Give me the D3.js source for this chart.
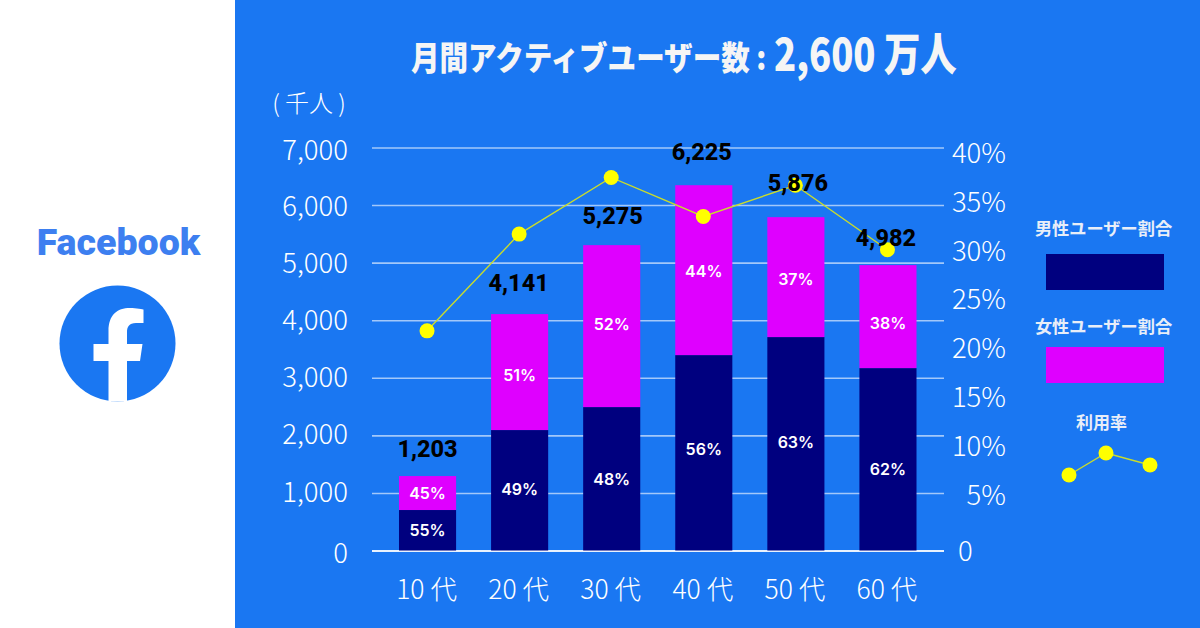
<!DOCTYPE html>
<html><head><meta charset="utf-8">
<script src="https://d3js.org/d3.v7.min.js"></script>
<style>html,body{margin:0;padding:0;background:#fff}svg{display:block}text{font-family:"Noto Sans CJK JP",sans-serif}</style>
</head><body><svg id="c" width="1200" height="628"></svg>
<script>
const categories=["10 代","20 代","30 代","40 代","50 代","60 代"];
const maleHeight=[703,2092,2491,3394,3707,3168];
const femaleHeight=[590,2014,2813,2951,2083,1789];
const totalLabels=["1,203","4,141","5,275","6,225","5,876","4,982"];
const malePct=["55%","49%","48%","56%","63%","62%"];
const femalePct=["45%","51%","52%","44%","37%","38%"];
const usageRate=[21.8,31.7,37.5,33.5,36.7,30.1];
const leftTicks=[0,1000,2000,3000,4000,5000,6000,7000];
const rightTicks=[0,5,10,15,20,25,30,35,40];
const leftLabelDy=[1,-2,-3,-2,-2,-1,-1,1];
const totalDy=[-19,-23,-21,-25,-26,-19];
const totalDx=[0,-1,1,-2,2,-2];
const maleDy=[0,-1,0,-4,-2,10];
const femaleDy=[0,3,-2,1,2,7];

const BLUE="#1a77f2",NAVY="#00007f",MAG="#df00ff",YEL="#ffff00",LINE="#c9dc2c";
const svg=d3.select("#c");
svg.append("rect").attr("x",235).attr("y",0).attr("width",965).attr("height",628).attr("fill",BLUE);

const x=d3.scaleBand().domain(categories).range([381.5,934]).paddingInner(.38).paddingOuter(.19);
const y=d3.scaleLinear().domain([0,7000]).range([550.5,147.5]);
const yR=d3.scaleLinear().domain([0,5,40]).range([551,495,153]);

// grid + left axis
const gL=svg.append("g").attr("transform","translate(372,0)")
 .call(d3.axisLeft(y).tickValues(leftTicks).tickFormat(d3.format(",")).tickSize(-572).tickPadding(24));
gL.select(".domain").remove();
gL.selectAll(".tick line").attr("stroke","#fff").attr("stroke-opacity",d=>d===0?.9:.6).attr("stroke-width",d=>d===0?2:1.6);
gL.selectAll("text").attr("fill","#fff").attr("font-size",27.5).attr("font-weight",300).attr("dy","0.4em").attr("y",d=>leftLabelDy[leftTicks.indexOf(d)]);
// right axis
const gR=svg.append("g").attr("transform","translate(1006,0)")
 .call(d3.axisLeft(yR).tickValues(rightTicks).tickFormat(d=>d===0?"0":d+"%").tickSize(0).tickPadding(0));
gR.select(".domain").remove();
gR.selectAll("text").attr("fill","#fff").attr("font-size",27.5).attr("font-weight",300).attr("text-anchor",d=>d===0?"start":"end").attr("dy","0.34em")
  .attr("x",d=>d===0?-48:0);
// x axis
const gX=svg.append("g").attr("transform","translate(-1,551)").call(d3.axisBottom(x).tickSize(0).tickPadding(29));
gX.select(".domain").remove();
gX.selectAll("text").attr("fill","#fff").attr("font-size",26.5).attr("font-weight",300).attr("dy","0.7em");

// bars
svg.append("g").selectAll("rect").data(categories).join("rect")
 .attr("x",d=>x(d)).attr("width",x.bandwidth())
 .attr("y",(d,i)=>y(maleHeight[i])).attr("height",(d,i)=>y(0)-y(maleHeight[i])).attr("fill",NAVY);
svg.append("g").selectAll("rect").data(categories).join("rect")
 .attr("x",d=>x(d)).attr("width",x.bandwidth())
 .attr("y",(d,i)=>y(maleHeight[i]+femaleHeight[i])).attr("height",(d,i)=>y(maleHeight[i])-y(maleHeight[i]+femaleHeight[i])).attr("fill",MAG);

const pctAttrs=s=>s.attr("text-anchor","middle").attr("fill","#fff").attr("font-size",16).attr("font-weight",600).style("font-family","Inter").attr("dy","0.36em");
svg.append("g").selectAll("text").data(categories).join("text")
 .attr("x",d=>x(d)+x.bandwidth()/2).attr("y",(d,i)=>y(maleHeight[i]/2)+maleDy[i]).text((d,i)=>malePct[i]).call(pctAttrs);
svg.append("g").selectAll("text").data(categories).join("text")
 .attr("x",d=>x(d)+x.bandwidth()/2).attr("y",(d,i)=>y(maleHeight[i]+femaleHeight[i]/2)+femaleDy[i]).text((d,i)=>femalePct[i]).call(pctAttrs);

// line
const lineGen=d3.line().x((d,i)=>x(categories[i])+x.bandwidth()/2-0.5).y(d=>yR(d));
svg.append("path").attr("d",lineGen(usageRate)).attr("fill","none").attr("stroke",LINE).attr("stroke-width",1.4);
svg.append("g").selectAll("circle").data(usageRate).join("circle")
 .attr("cx",(d,i)=>x(categories[i])+x.bandwidth()/2-0.5).attr("cy",d=>yR(d)).attr("r",7.5).attr("fill",YEL);

// totals
svg.append("g").selectAll("text").data(categories).join("text")
 .attr("x",(d,i)=>x(d)+x.bandwidth()/2+totalDx[i]).attr("y",(d,i)=>y(maleHeight[i]+femaleHeight[i])+totalDy[i])
 .attr("text-anchor","middle").attr("fill","#000").attr("font-size",23.5).attr("font-weight",800)
 .style("font-family","Roboto").text((d,i)=>totalLabels[i]);

// titles
svg.append("g").attr("transform","translate(411,70) scale(0.865,1)")
 .append("text").attr("fill","#f5f5f5").attr("font-size",33).attr("font-weight",900).text("月間アクティブユーザー数 :");
svg.append("g").attr("transform","translate(774,71) scale(0.81,1)")
 .append("text").attr("fill","#f5f5f5").attr("font-size",45).attr("font-weight",900).text("2,600 万人");
svg.append("text").attr("x",309).attr("y",112).attr("text-anchor","middle").attr("fill","#fff").attr("font-size",24).attr("font-weight",300).text("( 千人 )");

// legend
const legendLabels=["男性ユーザー割合","女性ユーザー割合","利用率"];
const legendColors=[NAVY,MAG];
const legendTextY=[235,333,429];
const legendRectY=[254,347];
svg.append("g").selectAll("text").data(legendLabels).join("text")
 .attr("x",(d,i)=>i<2?1103.5:1101.5).attr("y",(d,i)=>legendTextY[i]).attr("text-anchor","middle")
 .attr("fill","#e8eef8").attr("font-size",(d,i)=>i<2?17.2:17).attr("font-weight",700).text(d=>d);
svg.append("g").selectAll("rect").data(legendColors).join("rect")
 .attr("x",1046).attr("y",(d,i)=>legendRectY[i]).attr("width",118).attr("height",36).attr("fill",d=>d);
const legendSample=[[1069,475],[1106,453],[1150,465]];
svg.append("path").attr("d",d3.line()(legendSample)).attr("fill","none").attr("stroke",LINE).attr("stroke-width",1.4);
svg.append("g").selectAll("circle").data(legendSample).join("circle")
 .attr("cx",d=>d[0]).attr("cy",d=>d[1]).attr("r",7.5).attr("fill",YEL);

// brand
svg.append("text").attr("x",118.5).attr("y",255).attr("text-anchor","middle").attr("fill","#3d7ff0")
 .attr("font-size",37.5).attr("font-weight",900).style("font-family","Roboto").text("Facebook");
svg.append("circle").attr("cx",117.5).attr("cy",343.5).attr("r",58).attr("fill",BLUE);
svg.append("path").attr("fill","#fff")
 .attr("d","M108.5 401 V361 H93.5 V344 H108.5 V331 C108.5 315 117 308 130 308 C136 308 143.5 309.5 143.5 309.5 V323 H136 C129 323 127 327 127 332 V344 H142.5 L140 361 H127 V401 Q117.5 402 108.5 401 Z");
</script></body></html>
